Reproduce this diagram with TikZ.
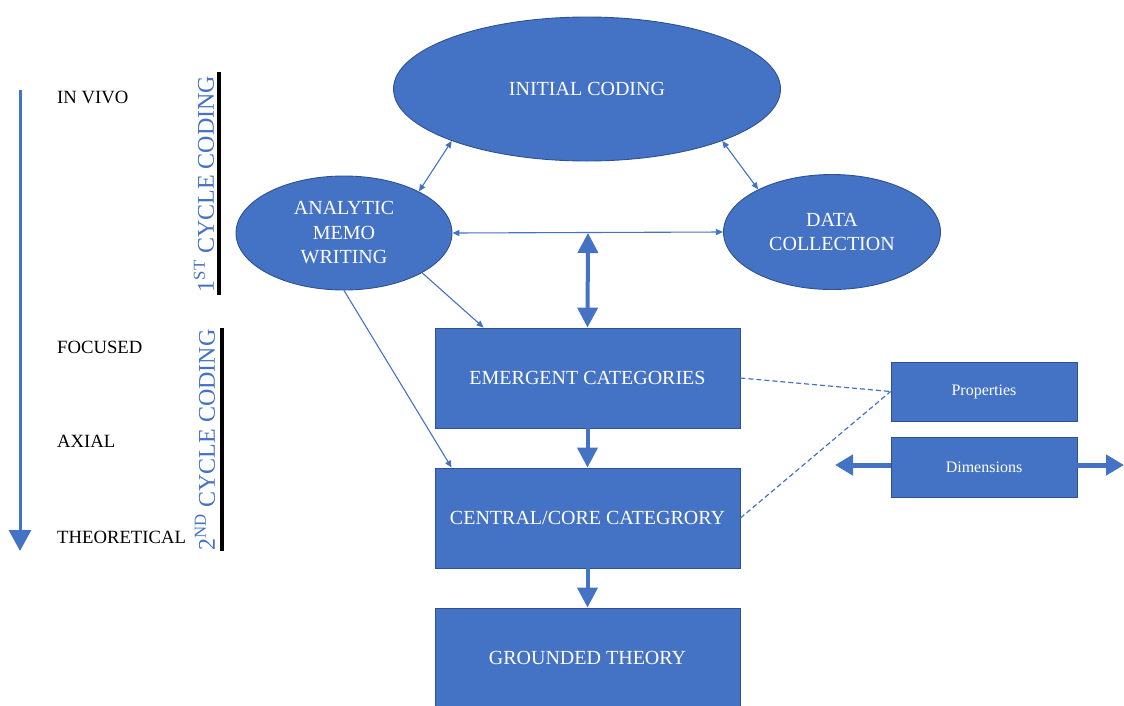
\documentclass[tikz,border=0pt]{standalone}
\usepackage{fontspec}
\setmainfont{Liberation Serif}
\usetikzlibrary{shapes.geometric,arrows.meta}
\definecolor{ofblue}{HTML}{4472C4}
\definecolor{ofedge}{HTML}{2F528F}
\tikzset{
  x=1pt,y=-1pt,
  ell/.style={ellipse,fill=ofblue,draw=ofedge,line width=0.9pt,inner sep=0pt,text=white,
    font=\fontsize{20}{24.5}\selectfont,align=center},
  bx/.style={rectangle,fill=ofblue,draw=ofedge,line width=0.9pt,inner sep=0pt,text=white,
    font=\fontsize{20}{24}\selectfont,minimum width=305pt,minimum height=100pt},
  smallbx/.style={rectangle,fill=ofblue,draw=ofedge,line width=0.9pt,inner sep=0pt,text=white,
    font=\fontsize{16}{19}\selectfont,minimum width=186pt,minimum height=59pt},
  thin/.style={draw=ofblue,line width=1.1pt,{Triangle[length=7pt,width=6pt]}-{Triangle[length=7pt,width=6pt]}},
  thinone/.style={draw=ofblue,line width=1.1pt,-{Triangle[length=7pt,width=6pt]}},
  thick/.style={draw=ofblue,line width=4pt,-{Triangle[length=20pt,width=20pt]}},
  thickboth/.style={draw=ofblue,line width=4pt,{Triangle[length=20pt,width=20pt]}-{Triangle[length=20pt,width=20pt]}},
  dsh/.style={draw=ofblue,line width=1.2pt,dash pattern=on 5pt off 3pt},
  lbl/.style={anchor=base west,inner sep=0pt,font=\fontsize{18.7}{22}\selectfont},
  cyc/.style={rotate=90,inner sep=0pt,text=ofblue,font=\fontsize{24}{28}\selectfont},
  bar/.style={draw=black,line width=4pt}
}
\begin{document}
\begin{tikzpicture}
\useasboundingbox (0,0) rectangle (1124,705);
% main nodes
\node[ell,minimum width=387pt,minimum height=144pt] (ini) at (587,89) {INITIAL CODING};
\node[ell,minimum width=216pt,minimum height=114pt] (memo) at (344,233) {ANALYTIC\\MEMO\\WRITING};
\node[ell,minimum width=217pt,minimum height=115pt] (data) at (832,232) {DATA\\COLLECTION};
\node[bx] (emg) at (587.5,378) {EMERGENT CATEGORIES};
\node[bx] (cen) at (587.5,518) {CENTRAL/CORE CATEGRORY};
\node[bx] (gt) at (587.5,658) {GROUNDED THEORY};
\node[smallbx] (prop) at (984,391.5) {Properties};
\node[smallbx,minimum height=60pt] (dim) at (984,467) {Dimensions};
% connectors
\draw[thin] (ini.201.5) -- (memo.29);
\draw[thin] (ini.-21.4) -- (data.150);
\draw[thin] (memo.east) -- (data.west);
\coordinate (mid) at (588,233);
\draw[thickboth] (mid) -- (emg.north);
\draw[thinone] (memo.-27.8) -- ([xshift=49pt]emg.north west);
\draw[thinone] (memo.south) -- ([xshift=17pt]cen.north west);
\draw[thick] (emg.south) -- (cen.north);
\draw[thick] (cen.south) -- (gt.north);
\draw[dsh] (emg.east) -- (prop.west);
\draw[dsh] (cen.east) -- (prop.west);
\coordinate (dl) at (835,465);
\coordinate (dr) at (1124,465);
\draw[draw=ofblue,line width=5pt,-{Triangle[length=18pt,width=20pt]}] (dim.west|-dl) -- (dl);
\draw[draw=ofblue,line width=5pt,-{Triangle[length=18pt,width=20pt]}] (dim.east|-dr) -- (dr);
% left scale
\coordinate (ltop) at (20,90);
\coordinate (lbot) at (20,551);
\draw[draw=ofblue,line width=3pt,-{Triangle[length=21pt,width=22pt]}] (ltop) -- (lbot);
\node[lbl] (l1) at (57,103.5) {IN VIVO};
\node[lbl] (l2) at (57,353.5) {FOCUSED};
\node[lbl] (l3) at (57,447.5) {AXIAL};
\node[lbl] (l4) at (57,543.5) {THEORETICAL};
% cycle labels
\node[cyc] (c1) at (204,184) {1\textsuperscript{ST} CYCLE CODING};
\node[cyc] (c2) at (205,440) {2\textsuperscript{ND} CYCLE CODING};
\coordinate (b1t) at (219,72);
\coordinate (b1b) at (219,295);
\coordinate (b2t) at (222,328);
\coordinate (b2b) at (222,551);
\draw[bar] (b1t) -- (b1b);
\draw[bar] (b2t) -- (b2b);
\end{tikzpicture}
\end{document}
